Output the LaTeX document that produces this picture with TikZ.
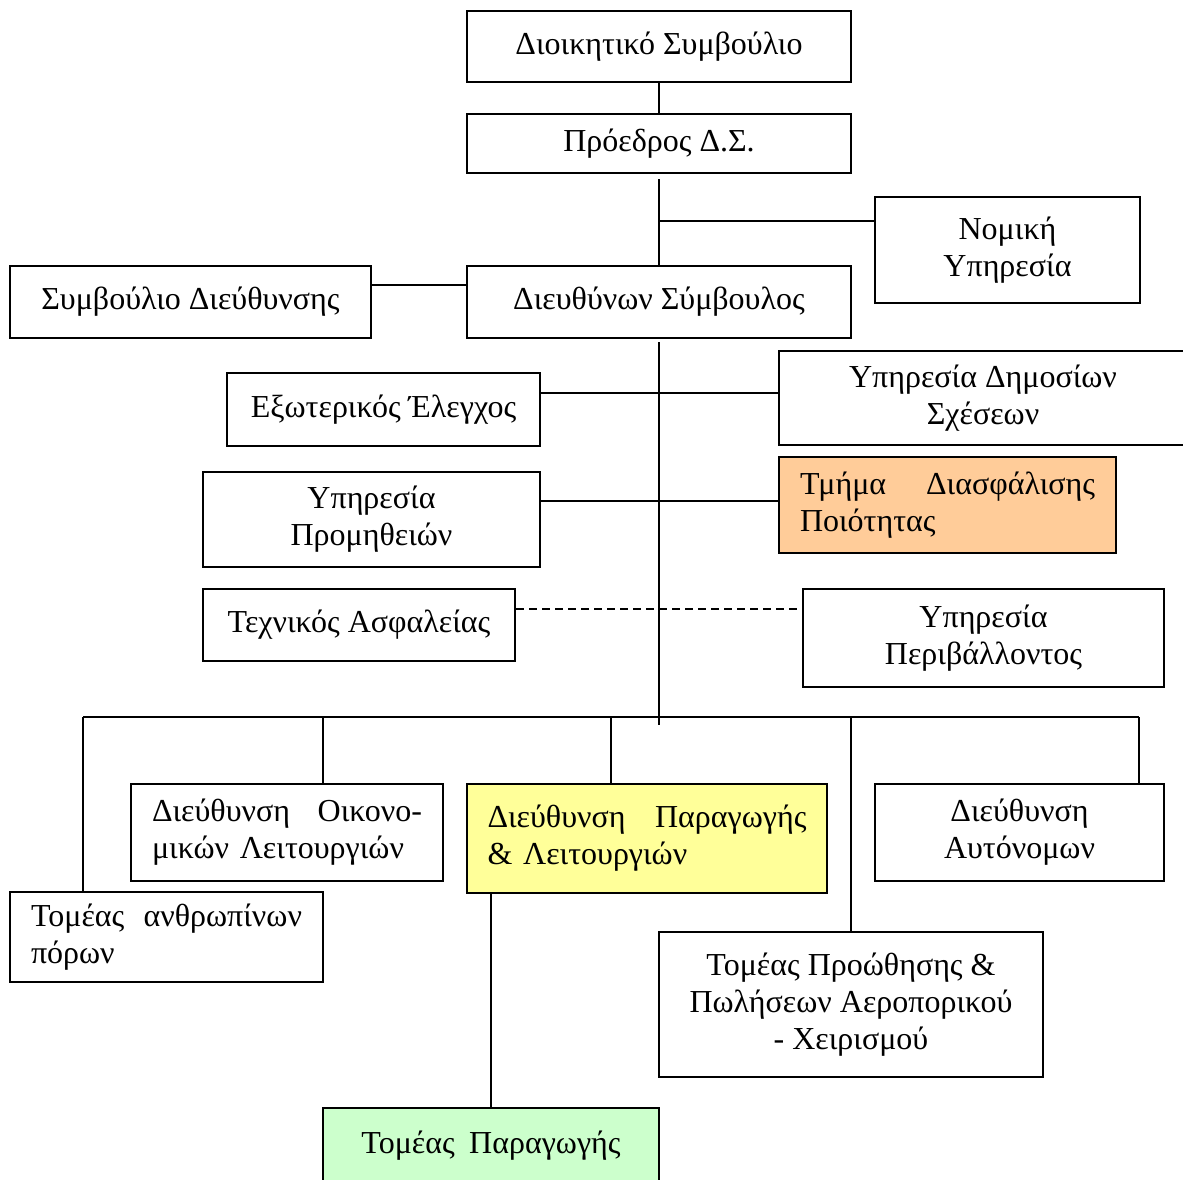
\documentclass[tikz,border=0pt]{standalone}
\usepackage{fontspec}
\setmainfont{Liberation Serif}
\newcommand\fs{\fontsize{32}{37}\selectfont}
\definecolor{qaorange}{HTML}{FFCC99}
\definecolor{prodyellow}{HTML}{FFFF99}
\definecolor{psgreen}{HTML}{CCFFCC}
\tikzset{
  box/.style={draw, line width=2.3pt, inner sep=0pt, font=\fs, align=center},
  link/.style={line width=1.9pt},
  dlink/.style={line width=1.9pt, dash pattern=on 8pt off 5pt}
}
\begin{document}
\begin{tikzpicture}[x=1pt, y=-1pt]
\useasboundingbox (0,0) rectangle (1183,1180);
\clip (0,0) rectangle (1183,1180);
\fill[white] (0,0) rectangle (1183,1180);

% boxes
\node[box, minimum width=384, minimum height=71] (ds) at (659,46.5) {Διοικητικό Συμβούλιο};
\node[box, minimum width=384, minimum height=59] (pr) at (659,143.5) {Πρόεδρος Δ.Σ.};
\node[box, minimum width=265, minimum height=106] (nom) at (1007.5,250) {Νομική\\Υπηρεσία};
\node[box, minimum width=361, minimum height=72] (sd) at (190.5,302) {Συμβούλιο Διεύθυνσης};
\node[box, minimum width=384, minimum height=72] (ceo) at (659,302) {Διευθύνων Σύμβουλος};
\node[box, minimum width=313, minimum height=73] (ext) at (383.5,409.5) {Εξωτερικός Έλεγχος};
\node[box, minimum width=408, minimum height=94] (pub) at (983,398) {Υπηρεσία Δημοσίων\\Σχέσεων};
\node[box, minimum width=337, minimum height=95] (proc) at (371.5,519.5) {Υπηρεσία\\Προμηθειών};
\node[box, fill=qaorange, minimum width=337, minimum height=96, text width=295, align=left] (qa) at (947.5,505)
  {\hbox to 295pt{Τμήμα\hfill Διασφάλισης}\\Ποιότητας};
\node[box, minimum width=312, minimum height=72] (safe) at (359,625) {Τεχνικός Ασφαλείας};
\node[box, minimum width=361, minimum height=98] (env) at (983.5,638) {Υπηρεσία\\Περιβάλλοντος};
\node[box, minimum width=312, minimum height=97, text width=270, align=left] (fin) at (287,832.5)
  {\hbox to 270pt{Διεύθυνση\hfill Οικονο-}\\μικών Λειτουργιών};
\node[box, fill=prodyellow, minimum width=360, minimum height=109, text width=319, align=left] (prod) at (647,838.5)
  {\hbox to 319pt{Διεύθυνση\hfill Παραγωγής}\\\& Λειτουργιών};
\node[box, minimum width=289, minimum height=97] (aut) at (1019.5,832.5) {Διεύθυνση\\Αυτόνομων};
\node[box, minimum width=313, minimum height=90, text width=271, align=left] (hr) at (166.5,937)
  {\hbox to 271pt{Τομέας\hfill ανθρωπίνων}\\πόρων};
\node[box, minimum width=384, minimum height=145] (sales) at (851,1004.5)
  {Τομέας Προώθησης \&\\Πωλήσεων Αεροπορικού\\- Χειρισμού};
\node[box, fill=psgreen, minimum width=336, minimum height=76] (ps) at (491,1146)
  {Τομέας\hspace{0.45em}Παραγωγής};

% junction coordinates
\coordinate (jn) at (659,221);
\coordinate (jsd) at (0,285);
\coordinate (t1) at (659,342);
\coordinate (t2) at (659,725);
\coordinate (l1) at (0,393);
\coordinate (l2) at (0,501);
\coordinate (l3) at (0,609);
\coordinate (b1) at (83,717);
\coordinate (b2) at (323,717);
\coordinate (b3) at (611,717);
\coordinate (b4) at (851,717);
\coordinate (b5) at (1139,717);

% connectors
\draw[link] (ds.south) -- (pr.north);
\draw[link] ([yshift=-5pt]pr.south) -- (ceo.north);
\draw[link] (jn) -- (jn -| nom.west);
\draw[link] (sd.east |- jsd) -- (ceo.west |- jsd);
\draw[link] (t1) -- (t2);
\draw[link] (ext.east |- l1) -- (pub.west |- l1);
\draw[link] (proc.east |- l2) -- (qa.west |- l2);
\draw[dlink] (safe.east |- l3) -- (env.west |- l3);
\draw[link] (b1) -- (b5);
\draw[link] (b1) -- (b1 |- hr.north);
\draw[link] (b2) -- (b2 |- fin.north);
\draw[link] (b3) -- (b3 |- prod.north);
\draw[link] (b4) -- (sales.north);
\draw[link] (b5) -- (b5 |- aut.north);
\draw[link] (prod.south -| ps.north) -- (ps.north);
\end{tikzpicture}
\end{document}
